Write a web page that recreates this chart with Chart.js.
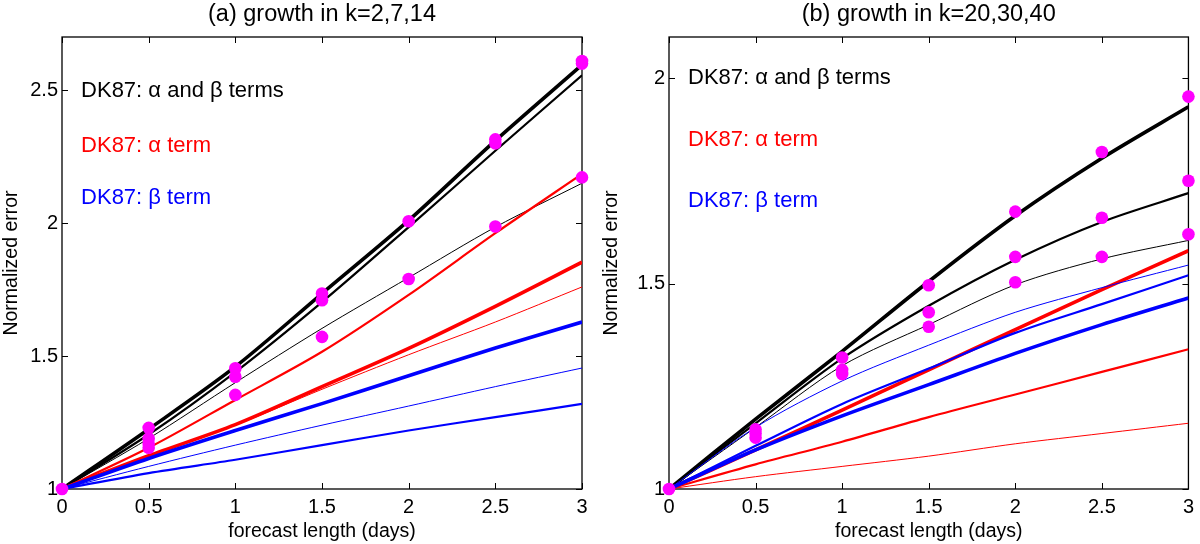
<!DOCTYPE html>
<html>
<head>
<meta charset="utf-8">
<script src="https://cdn.jsdelivr.net/npm/chart.js@4.4.1/dist/chart.umd.min.js"></script>
<style>
  body { margin: 0; background: #fff; }
  .panel { position: absolute; top: 0; width: 600px; height: 544px; }
</style>
</head>
<body>
<div class="panel" style="left:0"><canvas id="chartA" width="600" height="544"></canvas></div>
<div class="panel" style="left:600px"><canvas id="chartB" width="600" height="544"></canvas></div>
<script>
const days = [0, 0.5, 1, 1.5, 2, 2.5, 3];
const xTicks = [0, 0.5, 1, 1.5, 2, 2.5, 3];

// (a) growth in k=2,7,14
const aTicksY = [1, 1.5, 2, 2.5];
const aBlackK2 = [1, 1.225, 1.46, 1.735, 2.01, 2.31, 2.595];
const aBlackK7 = [1, 1.205, 1.44, 1.703, 1.985, 2.272, 2.556];
const aBlackK14 = [1, 1.19, 1.40, 1.604, 1.795, 1.985, 2.15];
const aRedK2 = [1, 1.125, 1.242, 1.385, 1.529, 1.687, 1.853];
const aRedK7 = [1, 1.155, 1.335, 1.516, 1.73, 1.962, 2.185];
const aRedK14 = [1, 1.125, 1.24, 1.375, 1.505, 1.628, 1.76];
const aBlueK2 = [1, 1.115, 1.22, 1.321, 1.426, 1.53, 1.628];
const aBlueK7 = [1, 1.06, 1.11, 1.165, 1.22, 1.27, 1.32];
const aBlueK14 = [1, 1.085, 1.165, 1.24, 1.312, 1.385, 1.455];
const aDotsX = [0, 0.5, 0.5, 0.5, 0.5, 1, 1, 1, 1.5, 1.5, 1.5, 2, 2, 2.5, 2.5, 2.5, 3, 3, 3];
const aDotsY = [1, 1.23, 1.19, 1.17, 1.155, 1.454, 1.422, 1.354, 1.735, 1.71, 1.572, 2.007, 1.79, 2.315, 2.30, 1.987, 2.61, 2.60, 2.172];

// (b) growth in k=20,30,40
const bTicksY = [1, 1.5, 2];
const bBlackK20 = [1, 1.17, 1.335, 1.505, 1.665, 1.805, 1.93];
const bBlackK30 = [1, 1.16, 1.318, 1.446, 1.558, 1.65, 1.72];
const bBlackK40 = [1, 1.15, 1.30, 1.40, 1.497, 1.56, 1.605];
const bRedK20 = [1, 1.095, 1.192, 1.29, 1.388, 1.485, 1.58];
const bRedK30 = [1, 1.06, 1.115, 1.175, 1.23, 1.285, 1.34];
const bRedK40 = [1, 1.03, 1.055, 1.08, 1.11, 1.135, 1.16];
const bBlueK20 = [1, 1.095, 1.178, 1.254, 1.33, 1.40, 1.465];
const bBlueK30 = [1, 1.105, 1.207, 1.293, 1.38, 1.45, 1.52];
const bBlueK40 = [1, 1.15, 1.263, 1.35, 1.43, 1.49, 1.545];
const bDotsX = [0, 0.5, 0.5, 0.5, 1, 1, 1, 1.5, 1.5, 1.5, 2, 2, 2, 2.5, 2.5, 2.5, 3, 3, 3];
const bDotsY = [1, 1.145, 1.135, 1.125, 1.32, 1.29, 1.28, 1.496, 1.43, 1.395, 1.675, 1.565, 1.503, 1.82, 1.66, 1.565, 1.955, 1.75, 1.62];

const noteText = ['DK87: \u03b1 and \u03b2 terms', 'DK87: \u03b1 term', 'DK87: \u03b2 term'];
const noteColor = ['#000000', '#ff0000', '#0000ff'];

const FONT = "'Liberation Sans', Arial, sans-serif";
Chart.defaults.font.family = FONT;
Chart.defaults.color = '#000';

// thick / medium / thin for the three wavenumbers
const widths = [3.6, 2.2, 1];

function pts(ys) {
  return days.map((d, i) => ({ x: d, y: ys[i] }));
}

// box, inward ticks, title and text notes, matlab style
const matlabAxes = {
  id: 'matlabAxes',
  beforeDatasetsDraw(chart) {
    const { ctx, chartArea: a, scales } = chart;
    ctx.save();
    ctx.strokeStyle = '#000';
    ctx.lineWidth = 1.3;
    ctx.strokeRect(a.left, a.top, a.right - a.left, a.bottom - a.top);
    ctx.lineWidth = 1;
    ctx.beginPath();
    scales.x.ticks.forEach(t => {
      const px = Math.round(scales.x.getPixelForValue(t.value)) + 0.5;
      ctx.moveTo(px, a.bottom); ctx.lineTo(px, a.bottom - 6);
      ctx.moveTo(px, a.top); ctx.lineTo(px, a.top + 6);
    });
    scales.y.ticks.forEach(t => {
      const py = Math.round(scales.y.getPixelForValue(t.value)) + 0.5;
      ctx.moveTo(a.left, py); ctx.lineTo(a.left + 6, py);
      ctx.moveTo(a.right, py); ctx.lineTo(a.right - 6, py);
    });
    ctx.stroke();
    ctx.restore();
  },
  afterDraw(chart) {
    const { ctx, chartArea: a, scales } = chart;
    const o = chart.options.plugins.matlabAxes;
    ctx.save();
    ctx.fillStyle = '#000';
    ctx.font = '23.5px ' + FONT;
    ctx.textAlign = 'center';
    ctx.textBaseline = 'middle';
    ctx.fillText(o.title, (a.left + a.right) / 2, 15);
    ctx.font = '22px ' + FONT;
    ctx.textAlign = 'left';
    o.notes.forEach((n, i) => {
      ctx.fillStyle = noteColor[i];
      ctx.fillText(noteText[i], scales.x.getPixelForValue(n[0]), scales.y.getPixelForValue(n[1]));
    });
    ctx.restore();
  }
};

function makeChart(id, cfg) {
  const lineSets = cfg.lines.map(l => ({
    data: pts(l[0]),
    borderColor: l[1],
    borderWidth: l[2],
    pointRadius: 0,
    fill: false,
    tension: 0.3,
    order: 2
  }));
  const dots = {
    type: 'scatter',
    data: cfg.dotsX.map((x, i) => ({ x: x, y: cfg.dotsY[i] })),
    pointRadius: 6.3,
    pointBackgroundColor: '#ff00ff',
    pointBorderColor: '#ff00ff',
    pointBorderWidth: 0,
    showLine: false,
    clip: false,
    order: 0
  };
  return new Chart(document.getElementById(id), {
    type: 'line',
    data: { datasets: [dots].concat(lineSets) },
    options: {
      responsive: false,
      animation: false,
      layout: { padding: { top: 37, right: cfg.padRight, left: 0, bottom: 0 } },
      plugins: {
        legend: { display: false },
        tooltip: { enabled: false },
        matlabAxes: { title: cfg.title, notes: cfg.notes }
      },
      scales: {
        x: {
          type: 'linear',
          min: 0, max: 3,
          grid: { display: false, drawTicks: false },
          border: { display: false },
          afterBuildTicks: s => { s.ticks = xTicks.map(v => ({ value: v })); },
          afterFit: s => { s.height = 55; },
          ticks: { padding: 6, font: { size: 20 }, color: '#000', callback: v => String(v) },
          title: { display: true, text: 'forecast length (days)', font: { size: 19.5 }, color: '#000', padding: { top: 0, bottom: 1 } }
        },
        y: {
          type: 'linear',
          min: 1, max: cfg.yMax,
          grid: { display: false, drawTicks: false },
          border: { display: false },
          afterBuildTicks: s => { s.ticks = cfg.ticksY.map(v => ({ value: v })); },
          afterFit: s => { s.width = cfg.yWidth; },
          ticks: { padding: 4, font: { size: 20 }, color: '#000', callback: v => String(v) },
          title: { display: true, text: 'Normalized error', font: { size: 19.5 }, color: '#000', padding: { top: 0, bottom: 0 } }
        }
      }
    },
    plugins: [matlabAxes]
  });
}

makeChart('chartA', {
  title: '(a) growth in k=2,7,14',
  yMax: 2.7, ticksY: aTicksY, yWidth: 62, padRight: 18,
  notes: [[0.11, 2.497], [0.11, 2.29], [0.11, 2.093]],
  dotsX: aDotsX, dotsY: aDotsY,
  lines: [
    [aBlueK2, '#0000ff', widths[0]], [aBlueK7, '#0000ff', widths[1]], [aBlueK14, '#0000ff', widths[2]],
    [aRedK2, '#ff0000', widths[0]], [aRedK7, '#ff0000', widths[1]], [aRedK14, '#ff0000', widths[2]],
    [aBlackK2, '#000000', widths[0]], [aBlackK7, '#000000', widths[1]], [aBlackK14, '#000000', widths[2]]
  ]
});

makeChart('chartB', {
  title: '(b) growth in k=20,30,40',
  yMax: 2.1, ticksY: bTicksY, yWidth: 69, padRight: 11,
  notes: [[0.11, 2.0], [0.11, 1.85], [0.11, 1.70]],
  dotsX: bDotsX, dotsY: bDotsY,
  lines: [
    [bBlueK20, '#0000ff', widths[0]], [bBlueK30, '#0000ff', widths[1]], [bBlueK40, '#0000ff', widths[2]],
    [bRedK20, '#ff0000', widths[0]], [bRedK30, '#ff0000', widths[1]], [bRedK40, '#ff0000', widths[2]],
    [bBlackK20, '#000000', widths[0]], [bBlackK30, '#000000', widths[1]], [bBlackK40, '#000000', widths[2]]
  ]
});
</script>
</body>
</html>
